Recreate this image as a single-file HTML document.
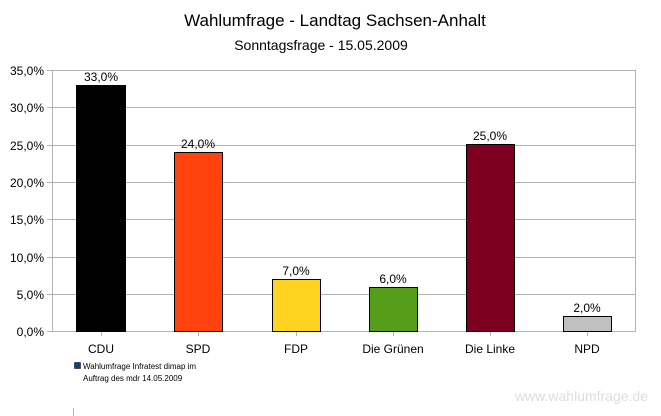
<!DOCTYPE html>
<html><head><style>body{margin:0;background:#fff}svg{display:block}text{font-family:"Liberation Sans",sans-serif}</style></head><body>
<svg width="661" height="416" xmlns="http://www.w3.org/2000/svg">
<text x="335" y="26" font-size="17" text-anchor="middle" fill="#000">Wahlumfrage - Landtag Sachsen-Anhalt</text>
<text x="321" y="50" font-size="14" text-anchor="middle" fill="#000">Sonntagsfrage - 15.05.2009</text>
<g stroke="#b3b3b3" stroke-width="1">
<line x1="47" y1="70.5" x2="636" y2="70.5"/><line x1="47" y1="107.5" x2="636" y2="107.5"/>
<line x1="47" y1="145.5" x2="636" y2="145.5"/><line x1="47" y1="182.5" x2="636" y2="182.5"/>
<line x1="47" y1="219.5" x2="636" y2="219.5"/><line x1="47" y1="257.5" x2="636" y2="257.5"/>
<line x1="47" y1="294.5" x2="636" y2="294.5"/><line x1="47" y1="331.5" x2="636" y2="331.5"/>
<line x1="52.5" y1="70" x2="52.5" y2="331"/><line x1="635.5" y1="70" x2="635.5" y2="331"/>
<line x1="101.5" y1="331" x2="101.5" y2="336"/><line x1="198.5" y1="331" x2="198.5" y2="336"/>
<line x1="296.5" y1="331" x2="296.5" y2="336"/><line x1="393.5" y1="331" x2="393.5" y2="336"/>
<line x1="490.5" y1="331" x2="490.5" y2="336"/><line x1="587.5" y1="331" x2="587.5" y2="336"/>
<line x1="73.5" y1="408" x2="73.5" y2="416"/>
</g>
<g font-size="12" text-anchor="end" fill="#000">
<text x="44" y="75">35,0%</text><text x="44" y="112">30,0%</text><text x="44" y="150">25,0%</text>
<text x="44" y="187">20,0%</text><text x="44" y="224">15,0%</text><text x="44" y="262">10,0%</text>
<text x="44" y="299">5,0%</text><text x="44" y="336">0,0%</text>
</g>
<g stroke="#000" stroke-width="1">
<rect x="76.5" y="85.5" width="49" height="246" fill="#000"/>
<rect x="174.5" y="152.5" width="48" height="179" fill="#ff420e"/>
<rect x="272.5" y="279.5" width="48" height="52" fill="#ffd320"/>
<rect x="369.5" y="287.5" width="48" height="44" fill="#579d1c"/>
<rect x="466.5" y="144.5" width="48" height="187" fill="#7e0021"/>
<rect x="563.5" y="316.5" width="48" height="15" fill="#c0c0c0"/>
</g>
<g font-size="12" text-anchor="middle" fill="#000">
<text x="101" y="81">33,0%</text><text x="198" y="148">24,0%</text><text x="296" y="275">7,0%</text>
<text x="393" y="283">6,0%</text><text x="490" y="140">25,0%</text><text x="587" y="312">2,0%</text>
<text x="101" y="353">CDU</text><text x="198" y="353">SPD</text><text x="296" y="353">FDP</text>
<text x="393" y="353">Die Grünen</text><text x="490" y="353">Die Linke</text><text x="587" y="353">NPD</text>
</g>
<rect x="74.5" y="362.5" width="6" height="6" fill="#004586" stroke="#000" stroke-width="0.5"/>
<text x="83" y="369" font-size="8" fill="#000">Wahlumfrage Infratest dimap im</text>
<text x="83" y="381" font-size="8" fill="#000">Auftrag des mdr 14.05.2009</text>
<text x="648" y="401" font-size="14" text-anchor="end" fill="#ddd">www.wahlumfrage.de</text>
</svg>
</body></html>
